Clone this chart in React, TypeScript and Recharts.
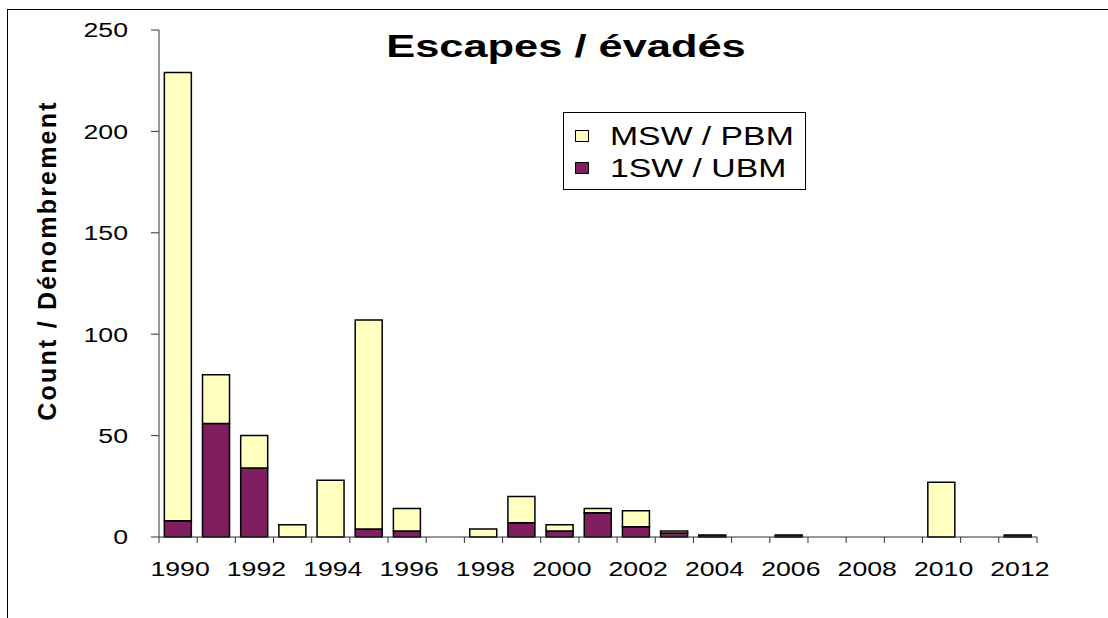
import React from "react";
import { BarChart, Bar, XAxis, YAxis, Label } from "recharts";

const YEARS = [
  "1990", "1991", "1992", "1993", "1994", "1995", "1996", "1997", "1998", "1999", "2000", "2001",
  "2002", "2003", "2004", "2005", "2006", "2007", "2008", "2009", "2010", "2011", "2012",
];
const SW1 = [8, 56, 34, 0, 0, 4, 3, 0, 0, 7, 3, 12, 5, 2, 1, 0, 1, 0, 0, 0, 0, 0, 1];
const MSW = [221, 24, 16, 6, 28, 103, 11, 0, 4, 13, 3, 2, 8, 1, 0, 0, 0, 0, 0, 0, 27, 0, 0];
const Y_TICKS = [0, 50, 100, 150, 200, 250];
const LEGEND = [
  { name: "MSW / PBM", key: "msw" },
  { name: "1SW / UBM", key: "sw1" },
];

const YELLOW = "#ffffc0";
const PLUM = "#801f5f";
const FONT = "'Liberation Sans', Arial, Helvetica, sans-serif";

const W = 1108;
const H = 618;
const M = { top: 30, right: 71, left: 0, bottom: 41 };
const YAXIS_W = 159;
const BAND = (W - M.left - M.right - YAXIS_W) / YEARS.length;
// the original figure is stretched sideways, so text gets a horizontal scale
const SX = 1.3;

const data = YEARS.map((y, i) => ({ year: y, sw1: SW1[i], msw: MSW[i] }));
const fills: Record<string, string> = { msw: YELLOW, sw1: PLUM };

function YearTick(props: any) {
  const { x, y, index, payload } = props;
  const last = index === YEARS.length - 1;
  return (
    <g>
      <line x1={x - BAND / 2} x2={x - BAND / 2} y1={y} y2={y + 6} stroke="#333" />
      {last && <line x1={x + BAND / 2} x2={x + BAND / 2} y1={y} y2={y + 6} stroke="#333" />}
      {index % 2 === 0 && (
        <text
          transform={`translate(${x + 2},${y + 39}) scale(${SX},1)`}
          textAnchor="middle"
          fontFamily={FONT}
          fontSize={20.5}
          fill="#000"
        >
          {payload.value}
        </text>
      )}
    </g>
  );
}

function CountTick(props: any) {
  const { x, y, payload } = props;
  return (
    <text
      transform={`translate(${x},${y}) scale(${SX},1)`}
      dy="0.36em"
      textAnchor="end"
      fontFamily={FONT}
      fontSize={20.5}
      fill="#000"
    >
      {payload.value}
    </text>
  );
}

function LegendBox() {
  return (
    <div
      style={{
        position: "absolute",
        left: 563,
        top: 112,
        width: 243,
        height: 78,
        border: "1px solid #000",
        background: "#fff",
        boxSizing: "border-box",
        paddingTop: 7,
        fontFamily: FONT,
      }}
    >
      {LEGEND.map((it) => (
        <div key={it.key} style={{ display: "flex", alignItems: "center", height: 32, marginLeft: 11 }}>
          <span
            style={{
              display: "inline-block",
              width: 12,
              height: 10,
              background: fills[it.key],
              border: "1px solid #000",
              marginRight: 21,
            }}
          />
          <span
            style={{
              display: "inline-block",
              fontSize: 25,
              color: "#000",
              lineHeight: "32px",
              transform: "scaleX(1.35)",
              transformOrigin: "left center",
            }}
          >
            {it.name}
          </span>
        </div>
      ))}
    </div>
  );
}

export default function App() {
  return (
    <div style={{ position: "absolute", left: 0, top: 0, width: W, height: H, overflow: "hidden", background: "#fff" }}>
      <div
        style={{
          position: "absolute",
          left: 7,
          top: 9,
          width: W + 20,
          height: H + 20,
          border: "1px solid #000",
        }}
      />
      <div style={{ position: "absolute", left: 0, top: 0 }}>
        <BarChart width={W} height={H} data={data} margin={M} barCategoryGap="14%">
          <XAxis
            dataKey="year"
            interval={0}
            tickLine={false}
            tickSize={0}
            tickMargin={0}
            height={40}
            stroke="#333"
            tick={<YearTick />}
          />
          <YAxis
            width={YAXIS_W}
            domain={[0, 250]}
            ticks={Y_TICKS}
            interval={0}
            tickSize={8}
            tickMargin={23}
            stroke="#333"
            tick={<CountTick />}
          >
            <Label
              content={({ viewBox }: any) => {
                const cy = viewBox.y + viewBox.height / 2 - 23;
                return (
                  <text
                    x={56}
                    y={cy}
                    transform={`rotate(-90, 56, ${cy})`}
                    textAnchor="middle"
                    fontFamily={FONT}
                    fontWeight="bold"
                    fontSize={25}
                    letterSpacing={2.2}
                    fill="#000"
                  >
                    Count / Dénombrement
                  </text>
                );
              }}
            />
          </YAxis>
          <Bar dataKey="sw1" name="1SW / UBM" stackId="a" fill={PLUM} stroke="#000" strokeWidth={1.5} isAnimationActive={false} />
          <Bar dataKey="msw" name="MSW / PBM" stackId="a" fill={YELLOW} stroke="#000" strokeWidth={1.5} isAnimationActive={false} />
        </BarChart>
      </div>
      <div
        style={{
          position: "absolute",
          left: 566 - 200,
          top: 31,
          width: 400,
          textAlign: "center",
          fontFamily: FONT,
          fontWeight: "bold",
          fontSize: 31,
          lineHeight: "31px",
          color: "#000",
          transform: "scaleX(1.4)",
          transformOrigin: "center",
        }}
      >
        Escapes / évadés
      </div>
      <LegendBox />
    </div>
  );
}
